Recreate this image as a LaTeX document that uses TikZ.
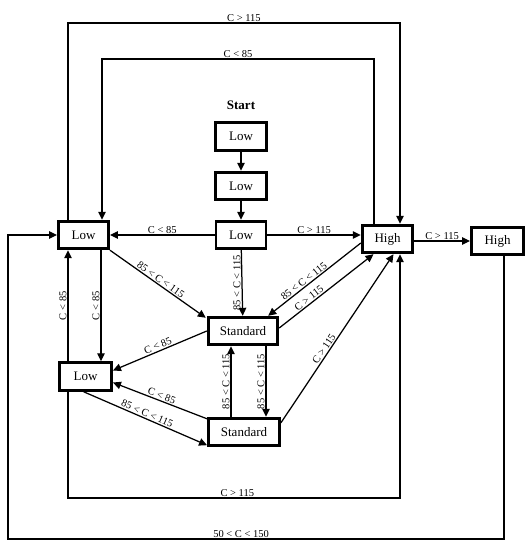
\documentclass[tikz,border=0pt]{standalone}
\usepackage{fontspec}
\setmainfont{Liberation Serif}
\usetikzlibrary{arrows.meta}
\begin{document}
\begin{tikzpicture}[x=1pt,y=-1pt,
  state/.style={draw,line width=2.9pt,minimum height=27.5pt,inner sep=1pt,font=\fontsize{13}{15}\selectfont},
  arr/.style={line width=1.25pt,-{Triangle[length=8pt,width=7.5pt]}},
  lbl/.style={font=\fontsize{10.5}{12}\selectfont,inner sep=1pt}]
\useasboundingbox (0,0) rectangle (532,550);
% nodes
\node[font=\bfseries\fontsize{13}{15}\selectfont] (start) at (241,105) {Start};
\node[state,minimum width=51pt] (L0) at (241,136.5) {Low};
\node[state,minimum width=51pt] (L1) at (241,186) {Low};
\node[state,minimum width=50pt] (L2) at (241,235) {Low};
\node[state,minimum width=50pt] (LL) at (83.5,235) {Low};
\node[state,minimum width=50.5pt] (H) at (387.5,239) {High};
\node[state,minimum width=52pt] (H2) at (497.5,241) {High};
\node[state,minimum width=69.5pt] (S1) at (243,331) {Standard};
\node[state,minimum width=52pt] (LM) at (85.5,376.5) {Low};
\node[state,minimum width=71pt] (S2) at (244,432) {Standard};
% helper coordinates
\coordinate (xa) at (101,0);
\coordinate (xb) at (68,0);
\coordinate (xc) at (231,0);
\coordinate (xd) at (266,0);
\coordinate (t1r) at (374,59);
\coordinate (t1l) at (102,59);
\coordinate (t2l) at (68,23);
\coordinate (t2r) at (400,23);
\coordinate (b1l) at (68,498);
\coordinate (b1r) at (400,498);
\coordinate (o1) at (504,539);
\coordinate (o2) at (8,539);
% start chain
\draw[arr] (L0) -- (L1);
\draw[arr] (L1) -- (L2);
% from central Low
\draw[arr] (L2) -- node[lbl,above]{C < 85} (LL);
\draw[arr] (L2.east) -- node[lbl,above]{C > 115} (L2.east -| H.west);
\draw[arr] (L2) -- node[lbl,rotate=90,anchor=south]{85 < C < 115} (S1);
% from left Low
\draw[arr] (LL.south east) -- node[lbl,above,sloped]{85 < C < 115} ([xshift=-1pt,yshift=-2pt]S1.north west);
\draw[arr] (LL.south -| xa) -- node[lbl,rotate=90,anchor=south]{C < 85} (LM.north -| xa);
\draw[arr] (LM.north -| xb) -- node[lbl,rotate=90,anchor=south]{C < 85} (LL.south -| xb);
% to middle Low
\draw[arr] (S1.west) -- node[lbl,above,sloped]{C < 85} ([yshift=6pt]LM.east);
\draw[arr] ([yshift=-2pt]S2.north west) -- node[lbl,above,sloped]{C < 85} ([yshift=-6pt]LM.east);
\draw[arr] ([xshift=-2pt]LM.south) -- node[lbl,above,sloped]{85 < C < 115} ([yshift=2pt]S2.south west);
% between standards
\draw[arr] (S2.north -| xc) -- node[lbl,rotate=90,anchor=south]{85 < C < 115} (S1.south -| xc);
\draw[arr] (S1.south -| xd) -- node[lbl,rotate=90,anchor=south]{85 < C < 115} (S2.north -| xd);
% with High
\draw[arr] ([yshift=-4pt]H.west) -- node[lbl,above,sloped,pos=0.58]{85 < C < 115} ([xshift=-11pt]S1.north east);
\draw[arr] ([yshift=3pt]S1.east) -- node[lbl,above,sloped,pos=0.35]{C > 115} ([xshift=-14pt]H.south);
\draw[arr] ([yshift=-6pt]S2.north east) -- node[lbl,above,sloped,pos=0.42]{C > 115} ([xshift=6pt]H.south);
\draw[arr] (H.east |- H2.west) -- node[lbl,above]{C > 115} (H2.west);
% loops
\draw[arr] (H.north -| t1r) -- (t1r) -- node[lbl,above]{C < 85} (t1l) -- (LL.north -| t1l);
\draw[arr] (LL.north -| t2l) -- (t2l) -- node[lbl,above,pos=0.53]{C > 115} (t2r) -- (H.north -| t2r);
\draw[arr] (LM.south -| b1l) -- (b1l) -- node[lbl,above,pos=0.51]{C > 115} (b1r) -- (H.south -| b1r);
\draw[arr] (H2.south -| o1) -- (o1) -- node[lbl,above,pos=0.53]{50 < C < 150} (o2) -- (o2 |- LL.west) -- (LL.west);
\end{tikzpicture}
\end{document}
